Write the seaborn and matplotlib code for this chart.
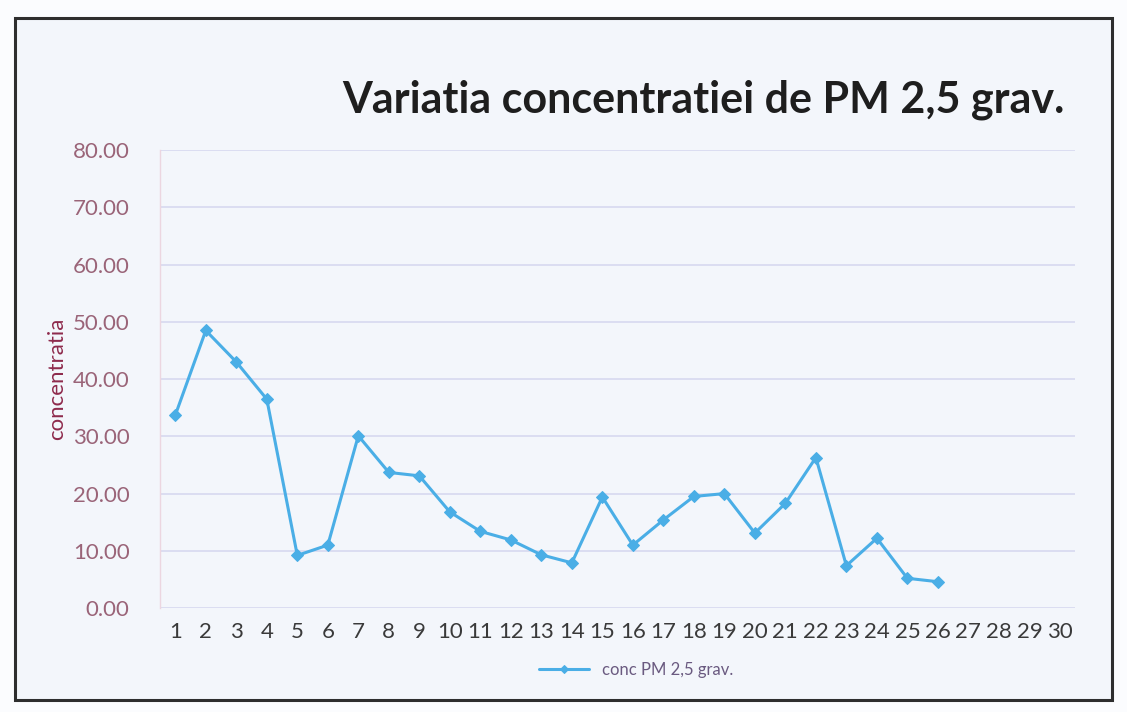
import matplotlib
matplotlib.use('Agg')
import matplotlib.pyplot as plt
import seaborn as sns
import pandas as pd
from matplotlib.patches import Rectangle

# data (day of month -> concentration)
days = list(range(1, 27))
conc = [33.7, 48.5, 43.0, 36.5, 9.2, 11.0, 30.1, 23.7, 23.1, 16.8,
        13.4, 11.9, 9.3, 7.9, 19.4, 11.0, 15.4, 19.5, 20.0, 13.1,
        18.3, 26.3, 7.4, 12.2, 5.2, 4.6]
x_labels = [str(i) for i in range(1, 31)]
y_ticks = [0, 10, 20, 30, 40, 50, 60, 70, 80]

series_name = 'conc PM 2,5 grav.'
title = 'Variatia concentratiei de PM 2,5 grav.'

df = pd.DataFrame({'zi': days, 'conc': conc})

sns.set_theme(style='white')
plt.rcParams['font.family'] = ['Lato', 'DejaVu Sans']

fig = plt.figure(figsize=(11.27, 7.12), dpi=100)
fig.patch.set_facecolor('#fbfcfe')

# chart frame, kept behind the axes
fig.patches.append(Rectangle((15 / 1127, 1 - 700 / 712), 1097 / 1127, 682 / 712,
                             transform=fig.transFigure, facecolor='#f3f6fb',
                             edgecolor='#2e2e2e', linewidth=2.2, zorder=-5))

ax = fig.add_axes([0.142, 0.146, 0.812, 0.643])
ax.set_zorder(2)
ax.set_facecolor('#f3f6fb')

sns.lineplot(data=df, x='zi', y='conc', ax=ax, color='#4aaee6', linewidth=2.2,
             marker='D', markersize=6, markeredgecolor='#4aaee6', label=series_name)

ax.set_xlim(0.5, 30.5)
ax.set_ylim(0, 80)
ax.set_xticks(range(1, 31))
ax.set_xticklabels(x_labels)
ax.set_yticks(y_ticks)
ax.set_yticklabels([f'{v:.2f}' for v in y_ticks])
ax.yaxis.grid(True, color='#d4d6ee', linewidth=1.1)
ax.xaxis.grid(False)

for side in ['top', 'right', 'bottom']:
    ax.spines[side].set_visible(False)
ax.spines['left'].set_color('#ecd6e0')
ax.spines['left'].set_linewidth(1)

ax.tick_params(axis='x', labelsize=16, colors='#3a3a3a', pad=10, length=0)
ax.tick_params(axis='y', labelsize=16, colors='#9a6478', pad=22, length=0)

ax.set_xlabel('')
ax.set_ylabel('concentratia', fontsize=16, color='#8e2a4c', labelpad=4)

fig.text(0.945, 0.86, title, ha='right', va='center', fontsize=31,
         fontweight='bold', color='#1e1e1e', zorder=3)

leg = ax.legend(loc='upper center', bbox_to_anchor=(0.52, -0.085), frameon=False,
                fontsize=12, handlelength=3, markerscale=0.7)
for t in leg.get_texts():
    t.set_color('#6a5a80')

fig.savefig('out.png', dpi=100, facecolor=fig.get_facecolor())
